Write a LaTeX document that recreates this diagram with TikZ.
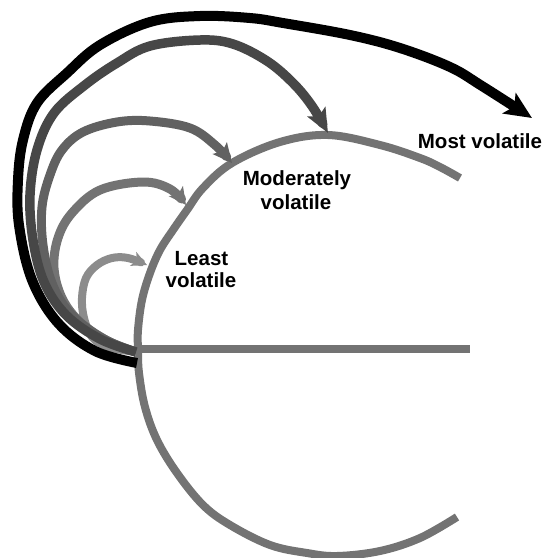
\documentclass[tikz,border=0pt]{standalone}
\usepackage{fontspec}
\setmainfont{Liberation Sans}
\usetikzlibrary{arrows.meta}
\begin{document}
\begin{tikzpicture}[x=1pt,y=-1pt,
  lbl/.style={font=\bfseries\fontsize{20.5}{24}\selectfont, inner sep=0pt, anchor=base},
  ring/.style={line width=8pt, draw=black!55},
  flow/.style={line width=#1, line cap=butt, line join=round},
]
\useasboundingbox (0,0) rectangle (545,558);

% named points
\coordinate (arcTop) at (460,178);
\coordinate (arcBot) at (457,517);
\coordinate (hl) at (138,349);
\coordinate (hr) at (470,349);
\coordinate (srcB) at (137,363);
\coordinate (srcG) at (136,352);
\coordinate (tipMost) at (532,118);
\coordinate (tipTop) at (328,133);
\coordinate (tipMod) at (232,163);
\coordinate (tipMid) at (186,205);
\coordinate (tipLeast) at (147,265);

% the big arc
\draw[ring] plot[smooth, tension=0.6] coordinates {(arcTop) (440,167) (420,158) (380,145) (328,135) (280,142) (232,163) (203,188) (187,210) (173,230) (160,250) (150,273) (142,300) (138,330) (138,350) (139,373) (145,407) (157,440) (177,473) (203,505) (230,525) (270,545) (307,553) (337,556) (380,551) (420,538) (arcBot)};

% horizontal line
\draw[ring] (hl) -- (hr);

% arrows, lightest first
\draw[flow=8pt, draw=black!45, -{Stealth[length=15pt,width=15pt,inset=4pt]}]
  plot[smooth, tension=0.6] coordinates {(srcG) (108,347) (92,337) (84,318) (82,298) (86,278) (97,265) (112,258) (128,258) (tipLeast)};

\draw[flow=9pt, draw=black!55, -{Stealth[length=17pt,width=17pt,inset=4pt]}]
  plot[smooth, tension=0.6] coordinates {(srcG) (108,341) (80,322) (62,298) (54,268) (58,238) (72,213) (100,190) (143,182) (170,189) (tipMid)};

\draw[flow=9pt, draw=black!62, -{Stealth[length=19pt,width=18pt,inset=4pt]}]
  plot[smooth, tension=0.6] coordinates {(srcG) (102,338) (70,313) (52,283) (43,245) (42,207) (50,175) (62,150) (83,132) (117,122) (150,121) (190,128) (215,145) (tipMod)};

\draw[flow=9.5pt, draw=black!72, -{Stealth[length=24pt,width=20pt,inset=5pt]}]
  plot[smooth, tension=0.6] coordinates {(srcG) (100,339) (66,315) (44,282) (33,240) (30,195) (37,150) (54,113) (85,85) (117,63) (150,46) (200,40) (233,44) (267,61) (293,83) (312,106) (tipTop)};

\draw[flow=10pt, draw=black, -{Stealth[length=27pt,width=24pt,inset=6pt]}]
  plot[smooth, tension=0.6] coordinates {(srcB) (95,351) (58,323) (32,280) (19,225) (18,180) (23,140) (37,103) (67,73) (100,45) (150,22) (200,16) (250,18) (283,23) (350,35) (400,48) (450,67) (482,86) (tipMost)};

% labels
\node[lbl] (most) at (480,148) {Most volatile};
\node[lbl] (modA) at (297,185.5) {Moderately};
\node[lbl] (modB) at (296,209) {volatile};
\node[lbl] (leastA) at (201.5,265) {Least};
\node[lbl] (leastB) at (201,287.5) {volatile};
\end{tikzpicture}
\end{document}
